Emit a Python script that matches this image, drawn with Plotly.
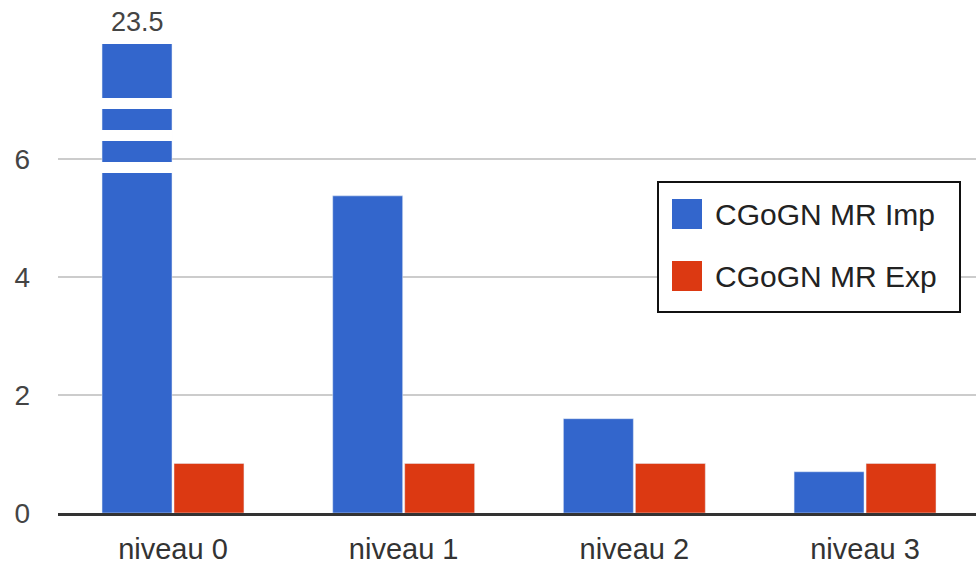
import plotly.graph_objects as go

categories = ["niveau 0", "niveau 1", "niveau 2", "niveau 3"]
series_names = ["CGoGN MR Imp", "CGoGN MR Exp"]
imp_values = [23.5, 5.38, 1.6, 0.7]
exp_values = [0.84, 0.84, 0.84, 0.84]
y_tickvals = [0, 2, 4, 6]
colors = ["#3366CC", "#DC3912"]

W, H = 976, 566
ML, MR, MT, MB = 58, 0, 44, 53
PW, PH = W - ML - MR, H - MT - MB
FONT = "Liberation Sans, Arial, sans-serif"


def px(x):
    return (x - ML) / PW


def py(y):
    return (H - MB - y) / PH


fig = go.Figure()
fig.add_trace(go.Bar(x=categories, y=imp_values, name=series_names[0],
                     marker_color=colors[0], showlegend=False))
fig.add_trace(go.Bar(x=categories, y=exp_values, name=series_names[1],
                     marker_color=colors[1], showlegend=False))

shapes = []
# broken-bar white gaps on the truncated bar
for y0, y1 in [(6.853, 7.04), (6.31, 6.497), (5.768, 5.954)]:
    shapes.append(dict(type="rect", xref="x", yref="y", x0=-0.36, x1=-0.001,
                       y0=y0, y1=y1, fillcolor="white", line_width=0, layer="above"))

# custom legend
shapes.append(dict(type="rect", xref="paper", yref="paper",
                   x0=px(658), x1=px(960), y0=py(312), y1=py(182),
                   line=dict(color="#111", width=2), fillcolor="white", layer="above"))
annotations = []
for i, (name, c) in enumerate(zip(series_names, colors)):
    top = 199 + i * 62
    shapes.append(dict(type="rect", xref="paper", yref="paper",
                       x0=px(672), x1=px(702), y0=py(top + 30), y1=py(top),
                       line_width=0, fillcolor=c, layer="above"))
    annotations.append(dict(x=px(713), y=py(top + 15), xref="paper", yref="paper",
                            text=name, showarrow=False, xanchor="left", yanchor="middle",
                            font=dict(family=FONT, size=30, color="#222")))

# value label of the truncated bar
annotations.append(dict(x=-0.156, y=py(22), xref="x", yref="paper",
                        text=f"{imp_values[0]:g}", showarrow=False,
                        xanchor="center", yanchor="middle",
                        font=dict(family=FONT, size=27, color="#444")))

fig.update_layout(
    width=W, height=H,
    margin=dict(l=ML, r=MR, t=MT, b=MB, autoexpand=False),
    paper_bgcolor="white", plot_bgcolor="white",
    barmode="group", bargap=0.376, bargroupgap=0.028,
    shapes=shapes, annotations=annotations,
    font=dict(family=FONT, color="#444"),
)
fig.update_xaxes(range=[-0.4985, 3.481], showline=True, linecolor="#333", linewidth=3,
                 ticks="", showgrid=False, tickfont=dict(size=29, color="#333"),
                 ticklabelstandoff=8, automargin=False)
fig.update_yaxes(range=[0, 7.956], tickvals=y_tickvals, showgrid=True, gridcolor="#ccc",
                 gridwidth=2, zeroline=False, ticks="", tickfont=dict(size=28, color="#444"),
                 ticklabelstandoff=27, automargin=False)

fig.write_html("out.html", config={"displayModeBar": False},
               post_script="document.body.style.margin='0';document.body.style.overflow='hidden';")
